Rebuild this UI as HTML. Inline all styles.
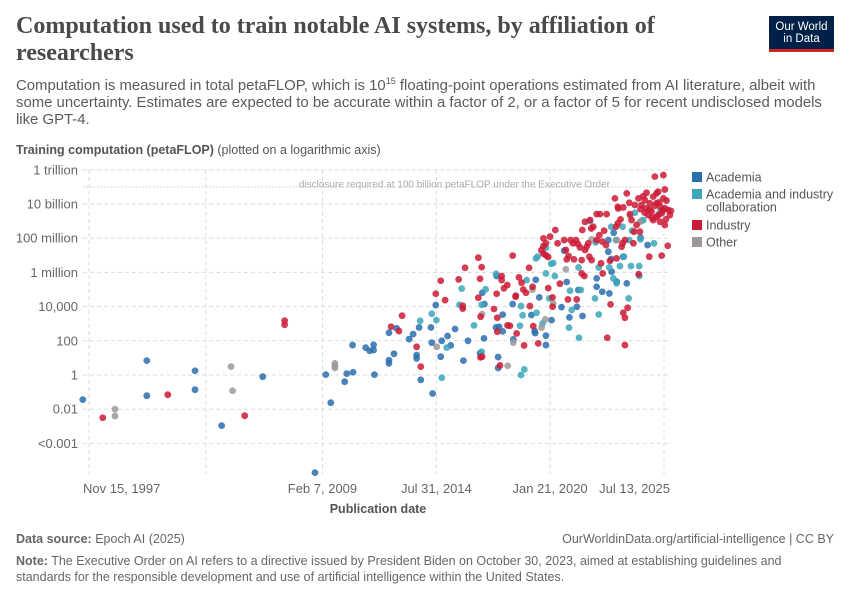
<!DOCTYPE html>
<html><head><meta charset="utf-8">
<style>
body{margin:0;background:#fff;font-family:"Liberation Sans",sans-serif;}
#wrap{position:relative;width:850px;height:600px;overflow:hidden;}
.t{position:absolute;white-space:nowrap;}
</style></head>
<body>
<div id="wrap">
<div class="t" style="left:16px;top:13px;font-family:'Liberation Serif',serif;font-size:24px;font-weight:bold;color:#4a4a4a;line-height:27px;">Computation used to train notable AI systems, by affiliation of<br>researchers</div>
<div style="position:absolute;left:769px;top:16px;width:65px;height:36px;background:#002147;border-bottom:3px solid #ce261e;box-sizing:border-box;color:#fff;font-size:11.5px;line-height:12px;text-align:center;padding-top:5px;">Our World<br>in Data</div>
<div class="t" style="left:16px;top:78px;font-size:14.9px;color:#5b5b5b;line-height:17.2px;">Computation is measured in total petaFLOP, which is 10<sup style="font-size:9px;line-height:0;">15</sup> floating-point operations estimated from AI literature, albeit with<br>some uncertainty. Estimates are expected to be accurate within a factor of 2, or a factor of 5 for recent undisclosed models<br>like GPT-4.</div>
<div class="t" style="left:16px;top:143px;font-size:12.5px;color:#555;"><b>Training computation (petaFLOP)</b> (plotted on a logarithmic axis)</div>
<svg id="chart" width="850" height="600" style="position:absolute;left:0;top:0;"></svg>
<div class="t" style="left:16px;top:532px;font-size:12.5px;color:#666;"><b>Data source:</b> Epoch AI (2025)</div>
<div class="t" style="right:16px;top:532px;font-size:12.5px;color:#666;">OurWorldinData.org/artificial-intelligence | CC BY</div>
<div class="t" style="left:16px;top:553px;font-size:12.5px;color:#666;line-height:16px;"><b>Note:</b> The Executive Order on AI refers to a directive issued by President Biden on October 30, 2023, aimed at establishing guidelines and<br>standards for the responsible development and use of artificial intelligence within the United States.</div>
</div>
<script>
const yTickValues=[12,10,8,6,4,2,0,-2,-4];
const yTickLabels=["1 trillion","10 billion","100 million","1 million","10,000","100","1","0.01","<0.001"];
const xTickDates=[1997.87,2003.49,2009.10,2014.58,2020.05,2025.53];
const xTickLabels=["Nov 15, 1997","","Feb 7, 2009","Jul 31, 2014","Jan 21, 2020","Jul 13, 2025"];
const disclosureLog10=11;
const seriesNames=["Academia","Academia and industry collaboration","Industry","Other"];
const academiaDates=[1997.57,2000.65,2000.65,2002.97,2002.97,2004.25,2006.23,2008.74,2009.26,2009.5,2010.17,2010.27,2010.55,2010.57,2011.18,2011.37,2011.56,2011.56,2011.6,2012.3,2012.3,2012.3,2012.67,2012.54,2013.27,2013.46,2013.63,2013.63,2013.83,2013.75,2014.32,2014.36,2014.4,2014.55,2014.84,2014.79,2015.12,2015.27,2015.48,2015.88,2016.1,2016.89,2016.79,2016.87,2016.68,2017.48,2017.45,2017.6,2017.77,2017.55,2017.55,2017.77,2018.25,2018.28,2019.36,2019.15,2019.31,2019.33,2019.53,2019.85,2019.85,2020.12,2020.6,2020.73,2020.85,2020.98,2021.34,2021.41,2021.61,2022.29,2022.29,2022.56,2022.85,2022.85,2022.99,2022.9,2023.01,2023.11,2023.25,2023.57,2023.74,2024.4,2024.74];
const academiaLog10=[-1.44,0.84,-1.21,0.25,-0.86,-2.96,-0.1,-5.71,0.02,-1.62,-0.39,0.08,1.75,0.16,1.6,1.42,1.77,1.46,0.02,2.47,0.87,0.68,2.73,1.24,2.1,2.39,1.17,0.97,-0.28,2.78,2.78,1.89,-1.08,4.09,2.0,1.07,2.28,1.73,2.69,0.84,2.0,4.15,4.81,2.14,1.28,5.79,2.78,2.82,2.55,1.05,0.41,3.53,4.15,2.08,5.57,3.51,2.57,2.45,4.54,2.3,1.75,3.21,3.97,7.27,5.44,3.37,3.99,4.97,3.45,5.65,5.16,4.87,7.89,7.21,6.78,4.77,6.04,8.32,5.46,6.92,5.36,8.03,7.6];
const collabDates=[2013.8,2014.36,2014.58,2014.84,2015.08,2015.8,2015.69,2016.39,2016.76,2016.76,2016.95,2017.45,2018.65,2018.6,2018.73,2018.81,2018.65,2018.92,2019.37,2019.45,2019.4,2019.69,2019.85,2019.85,2020.01,2020.1,2020.2,2020.28,2021.01,2020.96,2021.09,2021.42,2021.44,2021.53,2021.97,2022.24,2022.21,2022.39,2022.39,2022.9,2022.99,2023.09,2023.22,2023.25,2023.54,2023.41,2023.83,2023.86,2023.99,2023.94,2024.34,2024.34,2024.4,2024.13,2024.45,2025.05,2025.34,2025.5,2024.53,2023.6];
const collabLog10=[3.17,3.58,3.21,-0.16,1.6,5.05,4.11,2.9,4.11,1.36,5.01,5.92,4.03,2.88,3.49,0.33,0.0,5.55,6.82,6.92,3.64,3.02,7.44,5.94,4.48,6.5,6.55,5.79,4.93,2.77,3.8,6.29,2.18,4.97,9.0,7.76,4.48,3.54,6.29,6.29,8.67,5.65,7.89,5.36,8.67,6.37,4.48,7.89,8.44,6.37,6.37,5.79,7.93,9.49,9.02,7.7,9.55,9.65,9.06,6.92];
const industryDates=[1998.53,2001.66,2005.36,2007.28,2007.28,2012.4,2012.78,2012.93,2013.63,2013.83,2014.55,2014.79,2015.0,2015.65,2015.85,2015.85,2015.96,2016.6,2016.76,2016.68,2016.6,2016.71,2016.7,2016.78,2017.35,2017.48,2017.72,2017.72,2017.83,2017.99,2017.51,2017.51,2017.64,2018.0,2018.12,2018.25,2018.39,2018.44,2018.4,2018.55,2018.68,2018.76,2018.89,2018.8,2019.04,2019.08,2019.21,2019.24,2019.48,2019.73,2019.73,2019.85,2020.05,2019.96,2019.85,2019.73,2019.63,2019.96,2020.17,2020.17,2020.3,2020.41,2020.52,2020.73,2020.81,2020.85,2020.94,2020.91,2021.04,2021.15,2021.2,2021.3,2021.39,2021.49,2021.33,2021.57,2021.6,2021.73,2021.57,2021.7,2021.73,2021.81,2021.89,2021.97,2022.03,2022.13,2021.94,2022.05,2022.29,2022.45,2022.29,2022.42,2022.5,2022.56,2022.58,2022.65,2022.77,2022.74,2022.8,2022.93,2022.96,2023.17,2023.22,2023.31,2023.31,2023.25,2023.33,2023.44,2023.57,2023.49,2023.54,2023.65,2023.57,2023.65,2023.78,2023.65,2023.74,2023.86,2023.89,2023.97,2024.06,2024.09,2024.13,2024.31,2024.21,2024.37,2024.3,2024.45,2024.53,2024.61,2024.69,2024.85,2025.01,2025.17,2024.69,2024.77,2024.85,2024.93,2024.82,2025.09,2025.5,2025.25,2025.57,2025.17,2025.34,2025.46,2025.57,2025.73,2025.86,2025.17,2025.42,2025.62,2025.81,2025.65,2025.5,2025.42,2025.71,2025.01,2025.25,2025.34,2025.57,2025.1,2024.95,2025.3,2024.6,2024.4];
const industryLog10=[-2.5,-1.15,-2.38,3.18,2.94,2.82,2.57,3.47,1.65,0.49,4.75,5.51,4.38,5.59,4.05,3.88,6.27,6.86,6.31,5.63,4.52,3.41,1.03,1.07,3.86,4.75,5.79,5.55,5.07,5.26,3.35,2.53,0.56,2.9,2.88,6.98,4.58,2.43,4.64,5.71,5.4,5.0,4.81,1.73,6.27,4.03,5.16,2.86,1.85,7.99,7.54,7.7,8.09,6.9,7.0,7.1,7.3,5.08,4.54,3.99,8.48,7.7,5.34,7.89,7.31,6.76,6.96,4.42,7.89,7.7,6.76,7.89,7.66,7.46,4.42,6.72,8.48,8.96,5.94,5.79,7.31,7.5,7.7,9.06,8.57,8.67,6.92,6.72,9.41,9.41,7.89,8.18,6.53,7.8,5.94,8.44,9.41,7.6,2.18,6.68,4.13,10.33,8.67,8.87,9.84,6.82,9.74,9.1,9.8,7.5,7.7,7.89,3.64,3.35,3.93,1.75,10.62,10.07,9.41,9.06,7.7,8.38,9.94,5.9,8.77,8.38,10.33,9.94,10.46,10.23,10.66,9.69,10.43,10.62,9.74,9.35,10.04,9.55,6.92,11.6,11.69,10.72,10.85,10.05,9.85,9.65,9.75,9.65,9.6,9.25,9.45,9.1,9.35,10.2,10.33,6.98,7.56,9.06,9.35,8.96,8.77,9.9,9.2,10.1,9.5,9.7];
const otherDates=[1999.12,1999.12,2004.7,2004.78,2009.7,2009.7,2009.7,2014.6,2016.78,2018.01,2018.28,2019.2,2019.64,2019.82,2020.2,2020.81,2022.05,2023.27,2024.37,2023.9];
const otherLog10=[-2.0,-2.4,0.49,-0.92,0.68,0.53,0.41,1.65,3.56,0.54,1.89,4.99,2.77,3.25,4.19,6.18,7.93,7.89,8.96,9.3];

const NS="http://www.w3.org/2000/svg";
const svg=document.getElementById('chart');
const X0=89,X1=664,D0=1997.87,D1=2025.53;
function xScale(d){return X0+(d-D0)*(X1-X0)/(D1-D0);}
function yScale(l){return 375-l*17.1;}
function mk(tag,attrs,parent){const e=document.createElementNS(NS,tag);for(const k in attrs)e.setAttribute(k,attrs[k]);(parent||svg).appendChild(e);return e;}

yTickValues.forEach((v,i)=>{
  const y=yScale(v);
  const l=mk('line',{x1:83,x2:668,y1:y,y2:y,stroke:'#ddd','stroke-dasharray':'4,3'});
  
  
  const t=mk('text',{x:78,y:y+4.5,'text-anchor':'end','font-size':13,fill:'#666','font-family':'Liberation Sans, sans-serif'});
  t.textContent=yTickLabels[i];
  
  
});
xTickDates.forEach((d,i)=>{
  const x=xScale(d);
  const l=mk('line',{x1:x,x2:x,y1:170,y2:474,stroke:'#ddd','stroke-dasharray':'4,3'});
  
  
  if(xTickLabels[i]){
    const anchor=i===0?'start':(i===xTickDates.length-1?'end':'middle');
    const t=mk('text',{x:i===0?x-6:(i===xTickDates.length-1?x+6:x),y:493,'text-anchor':anchor,'font-size':13,fill:'#666','font-family':'Liberation Sans, sans-serif'});
    t.textContent=xTickLabels[i];
    
    
  }
});
const dl=mk('line',{x1:83,x2:668,y1:yScale(disclosureLog10),y2:yScale(disclosureLog10),stroke:'#ccc','stroke-dasharray':'1.5,2'});


const dt=mk('text',{x:610,y:yScale(disclosureLog10)+0.5,'text-anchor':'end','font-size':10,fill:'#aaa','font-family':'Liberation Sans, sans-serif'});
dt.textContent='disclosure required at 100 billion petaFLOP under the Executive Order';


const xt=mk('text',{x:378,y:513,'text-anchor':'middle','font-size':12.5,'font-weight':'bold',fill:'#555','font-family':'Liberation Sans, sans-serif'});
xt.textContent='Publication date';



const colors=['#2a6fae','#3ba7b8','#cc1a36','#9f9898'];
function drawSeries(dates,vals,color,name){
  dates.forEach((d,i)=>{
    const c=mk('circle',{cx:xScale(d),cy:yScale(vals[i]),r:3.4,fill:color,'fill-opacity':0.85});
    
    
  });
}
drawSeries(academiaDates,academiaLog10,colors[0],'academia-point');
drawSeries(collabDates,collabLog10,colors[1],'collaboration-point');
drawSeries(otherDates,otherLog10,colors[3],'other-point');
drawSeries(industryDates,industryLog10,colors[2],'industry-point');

const legendY=[177,194,225,242];
seriesNames.forEach((n,i)=>{
  const r=mk('rect',{x:692,y:legendY[i]-5,width:10,height:10,fill:colors[i]});
  
  
  const t=mk('text',{x:706,y:legendY[i]+4.5,'font-size':12.5,fill:'#555','font-family':'Liberation Sans, sans-serif'});
  
  
  if(i===1){
    const a=mk('tspan',{x:706},t);a.textContent='Academia and industry';
    const b=mk('tspan',{x:706,dy:13},t);b.textContent='collaboration';
  } else t.textContent=n;
});
</script>
</body></html>
